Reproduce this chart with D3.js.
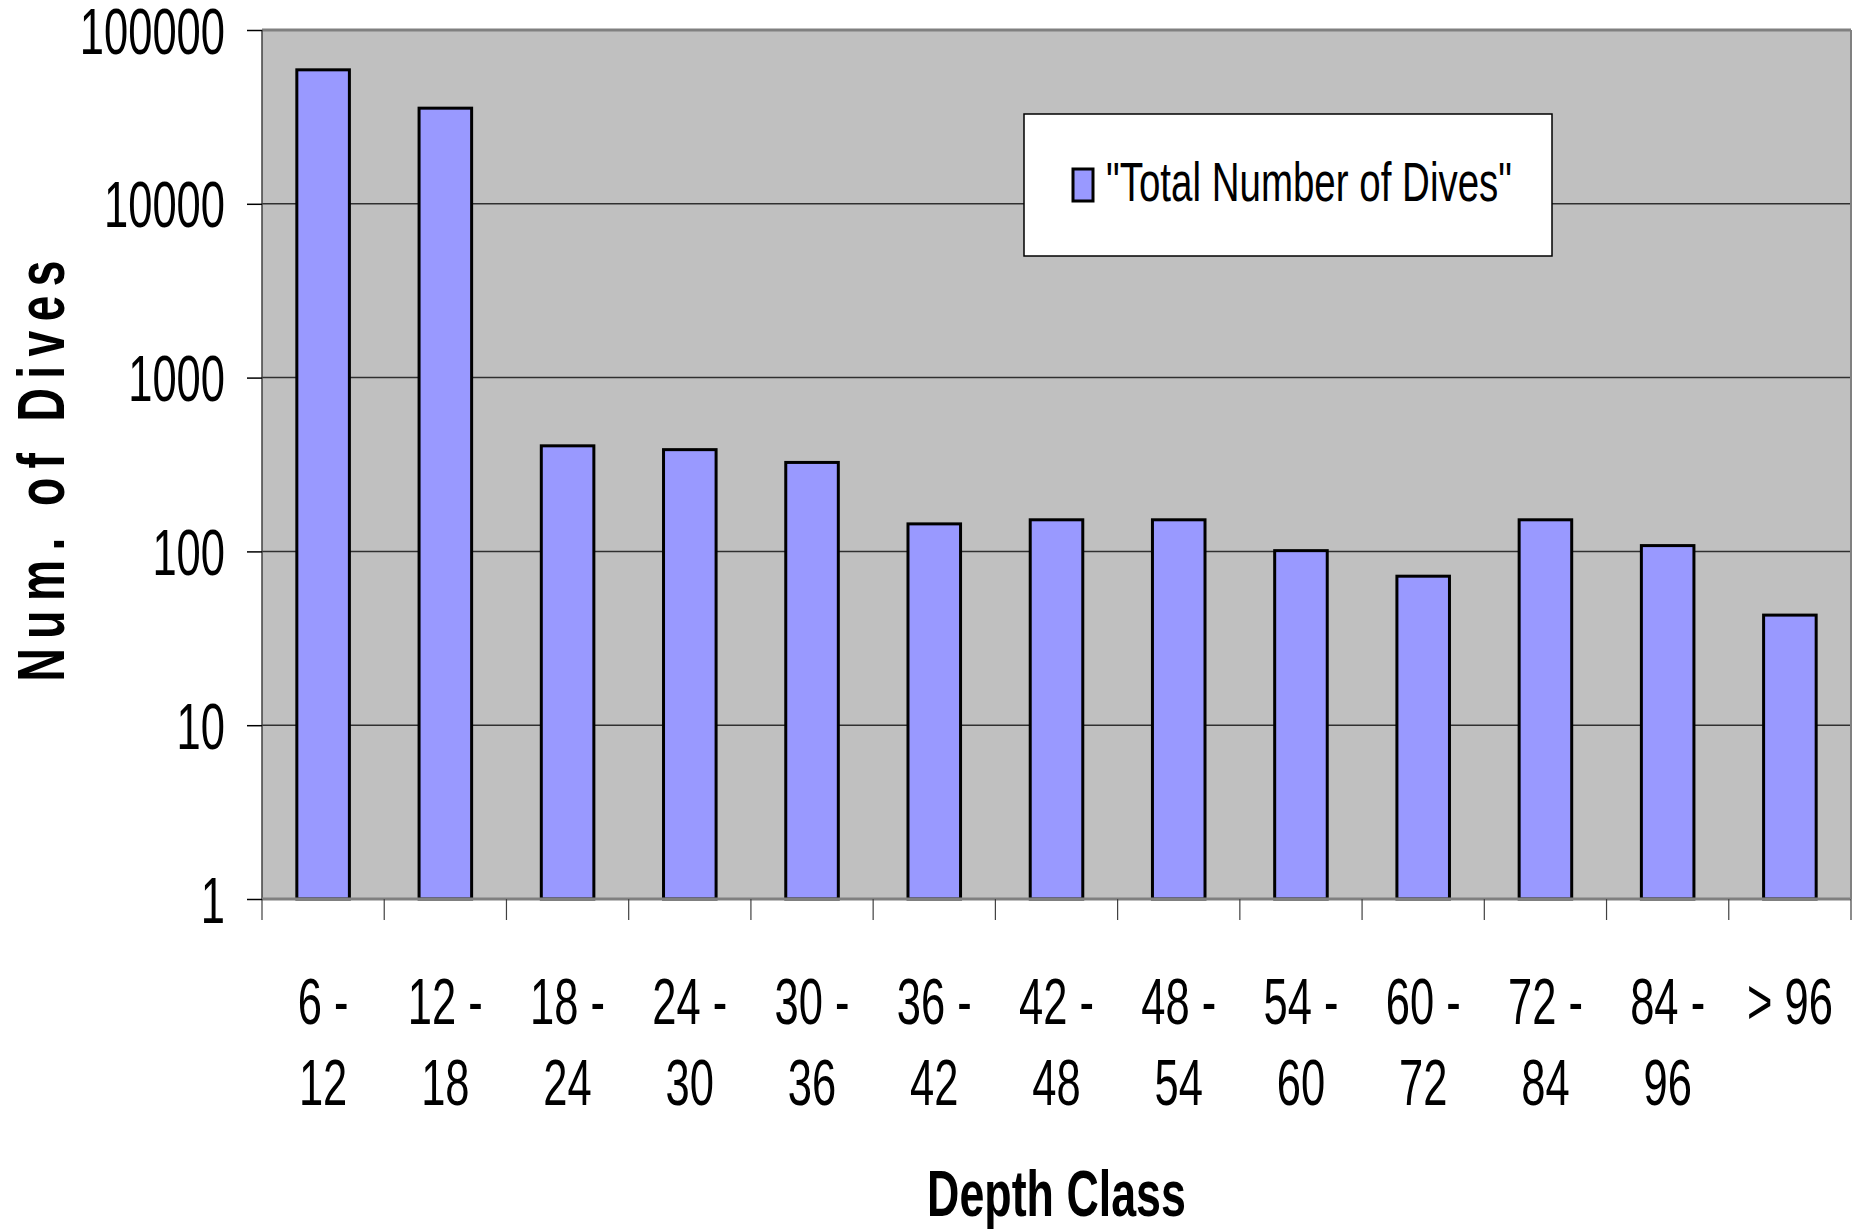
<!DOCTYPE html>
<html>
<head>
<meta charset="utf-8">
<script src="https://cdn.jsdelivr.net/npm/d3@7"></script>
<style>
  body { margin: 0; background: #fff; }
  text { font-family: "Liberation Sans", Arial, sans-serif; fill: #000; }
</style>
</head>
<body>
<svg id="chart"></svg>
<script>
// Data
const categories = ["6 - 12", "12 - 18", "18 - 24", "24 - 30", "30 - 36", "36 - 42",
  "42 - 48", "48 - 54", "54 - 60", "60 - 72", "72 - 84", "84 - 96", "> 96"];
const dives = [59000, 35500, 405, 385, 325, 144, 152, 152, 101, 72, 152, 108, 43];
const yTicks = [1, 10, 100, 1000, 10000, 100000];
const seriesName = '"Total Number of Dives"';

const W = 1859, H = 1231;
const plot = { left: 262, right: 1851, top: 30, bottom: 899 };
const narrow = 0.68; // text in the picture is horizontally condensed

const svg = d3.select("#chart").attr("width", W).attr("height", H);

const x = d3.scaleBand()
  .domain(categories)
  .range([plot.left, plot.right])
  .paddingInner(0.57)
  .paddingOuter(0.285);

const y = d3.scaleLog()
  .domain([1, 100000])
  .range([plot.bottom, plot.top]);

// Plot background
svg.append("rect")
  .attr("x", plot.left).attr("y", plot.top)
  .attr("width", plot.right - plot.left).attr("height", plot.bottom - plot.top)
  .attr("fill", "#c0c0c0");

// Gridlines
svg.append("g")
  .selectAll("line")
  .data(yTicks.slice(1, -1))
  .join("line")
  .attr("x1", plot.left).attr("x2", plot.right)
  .attr("y1", d => y(d)).attr("y2", d => y(d))
  .attr("stroke", "#303030").attr("stroke-width", 1.5);

// Plot border
svg.append("line")
  .attr("x1", plot.left).attr("x2", plot.right)
  .attr("y1", plot.top).attr("y2", plot.top)
  .attr("stroke", "#808080").attr("stroke-width", 3);
svg.append("line")
  .attr("x1", plot.right).attr("x2", plot.right)
  .attr("y1", plot.top).attr("y2", plot.bottom)
  .attr("stroke", "#808080").attr("stroke-width", 2);
svg.append("line")
  .attr("x1", plot.left).attr("x2", plot.left)
  .attr("y1", plot.top).attr("y2", plot.bottom)
  .attr("stroke", "#404040").attr("stroke-width", 1.5);

// Bars
svg.append("g")
  .selectAll("rect")
  .data(dives)
  .join("rect")
  .attr("x", (d, i) => x(categories[i]))
  .attr("y", d => y(d))
  .attr("width", x.bandwidth())
  .attr("height", d => plot.bottom - y(d))
  .attr("fill", "#9999ff")
  .attr("stroke", "#000")
  .attr("stroke-width", 3);

// Bottom axis line
svg.append("line")
  .attr("x1", plot.left).attr("x2", plot.right)
  .attr("y1", plot.bottom).attr("y2", plot.bottom)
  .attr("stroke", "#808080").attr("stroke-width", 3);

// Category boundary ticks
svg.append("g")
  .selectAll("line")
  .data(d3.range(categories.length + 1))
  .join("line")
  .attr("x1", i => plot.left + i * x.step())
  .attr("x2", i => plot.left + i * x.step())
  .attr("y1", plot.bottom).attr("y2", plot.bottom + 21)
  .attr("stroke", "#404040").attr("stroke-width", 1.2);

// Y axis
const yAxis = svg.append("g")
  .attr("transform", `translate(${plot.left},0)`)
  .call(d3.axisLeft(y)
    .tickValues(yTicks)
    .tickFormat(d3.format("d"))
    .tickSize(15)
    .tickSizeOuter(0));
yAxis.select(".domain").remove();
yAxis.selectAll(".tick line").attr("stroke", "#000").attr("stroke-width", 1.5);
yAxis.selectAll(".tick text")
  .attr("x", null)
  .attr("dy", "0.36em")
  .attr("transform", `translate(-37,0) scale(${narrow},1)`)
  .attr("text-anchor", "end")
  .style("font-size", "64px");

// X labels (two lines)
const xl = svg.append("g")
  .selectAll("text")
  .data(categories)
  .join("text")
  .attr("transform", d => `translate(${x(d) + x.bandwidth() / 2},1024) scale(${narrow},1)`)
  .attr("text-anchor", "middle")
  .style("font-size", "64px");
xl.each(function(d) {
  const parts = d.split(" - ");
  const lines = parts.length > 1 ? [parts[0] + " -", parts[1]] : [d];
  d3.select(this).selectAll("tspan")
    .data(lines)
    .join("tspan")
    .attr("x", 0)
    .attr("y", (l, j) => j * 81)
    .text(l => l);
});

// Axis titles
svg.append("text")
  .attr("transform", `translate(${(plot.left + plot.right) / 2},1216) scale(0.7,1)`)
  .attr("text-anchor", "middle")
  .style("font-size", "64px")
  .style("font-weight", "bold")
  .text("Depth Class");

svg.append("text")
  .attr("transform", "translate(64,471) rotate(-90) scale(0.7,1)")
  .attr("text-anchor", "middle")
  .attr("textLength", 421 / 0.7)
  .attr("lengthAdjust", "spacing")
  .style("font-size", "66px")
  .style("font-weight", "bold")
  .text("Num. of Dives");

// Legend
const lg = svg.append("g");
lg.append("rect")
  .attr("x", 1024).attr("y", 114)
  .attr("width", 528).attr("height", 142)
  .attr("fill", "#fff").attr("stroke", "#000").attr("stroke-width", 1.5);
lg.append("rect")
  .attr("x", 1073).attr("y", 169)
  .attr("width", 20).attr("height", 32)
  .attr("fill", "#9999ff").attr("stroke", "#000").attr("stroke-width", 3);
lg.append("text")
  .attr("transform", `translate(1106,201) scale(0.7,1)`)
  .style("font-size", "55px")
  .text(seriesName);
</script>
</body>
</html>
